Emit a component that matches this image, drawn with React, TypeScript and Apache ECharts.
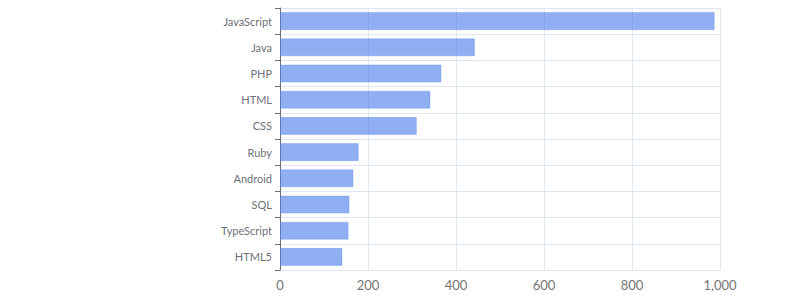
import React, { useEffect, useRef } from "react";
import * as echarts from "echarts";

const categories = ["JavaScript", "Java", "PHP", "HTML", "CSS", "Ruby", "Android", "SQL", "TypeScript", "HTML5"];
const values = [988, 443, 367, 342, 311, 179, 167, 158, 156, 142];
const xTicks = { min: 0, max: 1000, interval: 200 };

export default function App() {
  const ref = useRef<HTMLDivElement>(null);
  useEffect(() => {
    if (!ref.current) return;
    const chart = echarts.init(ref.current, undefined, { renderer: "svg" });
    chart.setOption({
      animation: false,
      grid: { left: 280, right: 80, top: 8, bottom: 30 },
      xAxis: {
        type: "value",
        min: xTicks.min,
        max: xTicks.max,
        interval: xTicks.interval,
        axisLine: { show: false },
        axisTick: { show: false },
        axisLabel: { color: "#757575", fontSize: 13, fontFamily: "Lato", margin: 8 },
        splitLine: { lineStyle: { color: "#e0e6f1" } },
      },
      yAxis: {
        type: "category",
        data: categories,
        inverse: true,
        axisLine: { show: true, lineStyle: { color: "#6e7079" } },
        axisTick: { show: true, length: 5, lineStyle: { color: "#6e7079" } },
        axisLabel: { color: "#6e7079", fontSize: 11, fontFamily: "Lato", margin: 8 },
        splitLine: { show: true, lineStyle: { color: "#e0e6f1" } },
      },
      series: [
        {
          type: "bar",
          data: values,
          barCategoryGap: "31%",
          z: 1,
          itemStyle: {
            color: "rgba(84,132,235,0.65)",
            borderColor: "rgba(84,132,235,0.3)",
            borderWidth: 1,
          },
        },
      ],
    });
    return () => chart.dispose();
  }, []);
  return <div ref={ref} style={{ width: 800, height: 300, position: "absolute", left: 0, top: 0 }} />;
}
